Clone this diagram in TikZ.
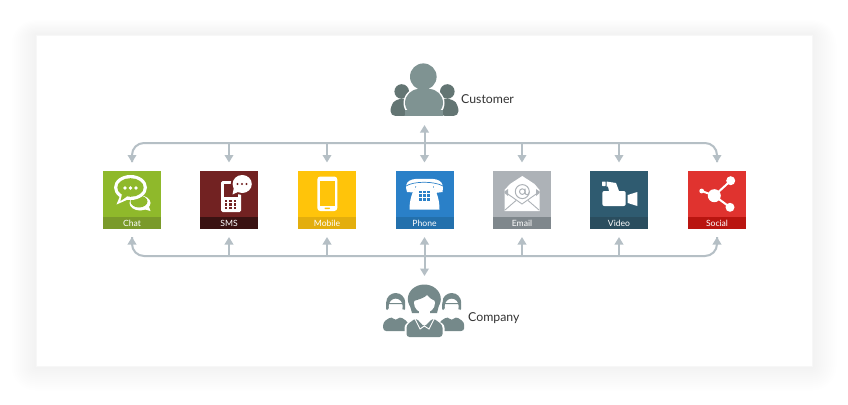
\documentclass[tikz,border=0pt]{standalone}
\usepackage{fontspec}
\setmainfont{Lato}
\usetikzlibrary{arrows.meta}
\definecolor{conncol}{HTML}{B5BFC5}
\definecolor{pmid}{HTML}{7F9392}
\definecolor{pside}{HTML}{637573}
\definecolor{pcomp}{HTML}{75898A}
\definecolor{icg}{HTML}{8FB92B}
\definecolor{icm}{HTML}{722222}
\definecolor{icy}{HTML}{FFC40A}
\definecolor{icb}{HTML}{2A80C8}
\definecolor{ice}{HTML}{ADB2B7}
\tikzset{
  x=1pt,y=-1pt,
  tile/.style={minimum size=58pt,inner sep=0pt,outer sep=0pt,fill=#1},
  band/.style={minimum width=58pt,minimum height=12pt,inner sep=0pt,outer sep=0pt,fill=#1,text=white,font=\fontsize{8.6}{10}\selectfont},
  conn/.style={draw=conncol,line width=2pt},
  arr/.style={conn,-{Triangle[length=7.5pt,width=8.5pt]}},
  both/.style={conn,{Triangle[length=7.5pt,width=8.5pt]}-{Triangle[length=7.5pt,width=8.5pt]}},
  who/.style={inner sep=0pt,text=black!80,font=\fontsize{12.3}{15}\selectfont,anchor=west},
}
\begin{document}
\begin{tikzpicture}
\useasboundingbox (0,0) rectangle (848,404);
\fill[white] (0,0) rectangle (848,404);
% soft card shadow, one grey level per step
\foreach \d in {24,22,...,2}{
  \pgfmathtruncatemacro{\g}{255-(26-\d)/2}
  \definecolor{shadowstep}{RGB}{\g,\g,\g}
  \fill[shadowstep,rounded corners=\d pt] (36-\d,35-\d*0.6) rectangle (812+\d,366+\d);
}
\fill[white] (36,35) rectangle (812,366);
\draw[black!3,line width=.8pt] (36,35) rectangle (812,366);

% tiles
\foreach \n/\x/\c/\b/\t in {chat/132/8FB92B/7A9A2A/Chat,sms/229/722222/3A1212/SMS,mobile/327/FFC40A/E3AE0D/Mobile,phone/424.5/2A80C8/2370AC/Phone,email/522/ADB2B7/7F878C/Email,video/619/2F5B70/2A4D5E/Video,social/717/E0332F/B91510/Social}{
  \definecolor{tc}{HTML}{\c}\definecolor{bc}{HTML}{\b}
  \node[tile=tc] (\n) at (\x,200) {};
  \node[band=bc] (\n-band) at (\x,223) {\t};
}
\coordinate (busT) at (424.5,143);
\coordinate (busB) at (424.5,256);
\coordinate (top) at (424.5,125);
\coordinate (bot) at (424.5,276);

% connectors
\draw[conn,rounded corners=12pt] ([yshift=9pt]chat.north) -- (chat.north |- busT) -- (social.north |- busT) -- ([yshift=9pt]social.north);
\draw[conn,rounded corners=12pt] ([yshift=-8pt]chat-band.south) -- (chat-band.south |- busB) -- (social-band.south |- busB) -- ([yshift=-8pt]social-band.south);
\foreach \n in {chat,social}{
  \draw[arr] ([yshift=14pt]\n.north) -- ([yshift=8.5pt]\n.north);
  \draw[arr] ([yshift=-14pt]\n-band.south) -- ([yshift=-8pt]\n-band.south);
}
\foreach \n in {sms,mobile,email,video}{
  \draw[arr] (\n.north |- busT) -- ([yshift=8.5pt]\n.north);
  \draw[arr] (\n-band.south |- busB) -- ([yshift=-8pt]\n-band.south);
}
\draw[both] (top) -- ([yshift=8.5pt]phone.north);
\draw[both] ([yshift=-8pt]phone-band.south) -- (bot);

% chat icon
\fill[white] (140,203) ellipse (10.5 and 7.5);
\fill[white] (140,208) -- (150.5,211) -- (148,204) -- cycle;
\fill[icg] (139,201.5) ellipse (8.5 and 6);
\fill[white] (130.5,187.5) ellipse (16.5 and 12.5);
\fill[white] (120,196) -- (116.5,204.5) -- (129,199) -- cycle;
\fill[icg] (130.5,187.5) ellipse (13.2 and 9.3);
\fill[icg] (122,194) -- (120.5,201) -- (127,196.5) -- cycle;
\foreach \x in {125,130.5,136}{\fill[white] (\x,188) circle (1.8);}

% sms icon
\fill[white,rounded corners=1.5pt] (221,181) rectangle (241,212);
\fill[icm] (224,184) rectangle (238,197);
\foreach \y in {201,204.5,208}{\foreach \x in {226,230.5,235}{\fill[icm] (\x-1.2,\y-1.2) rectangle (\x+1.2,\y+1.2);}}
\fill[icm] (242.2,184) ellipse (11.5 and 11);
\fill[icm] (231,197) -- (232,189) -- (240,192) -- cycle;
\fill[white] (242.2,184) ellipse (9.6 and 9);
\fill[white] (232.5,194.5) -- (234,187) -- (240,191) -- cycle;
\foreach \x in {237.5,242,246.5}{\fill[icm] (\x,184) circle (1.2);}

% mobile icon
\fill[white,rounded corners=3pt] (317.3,176.5) rectangle (337.3,211);
\fill[icy] (320,180.5) rectangle (334.8,206);
\fill[icy,rounded corners=.6pt] (324.5,207.5) rectangle (330,209);

% phone icon
\fill[white] (407,192) .. controls (403,180) and (412,178) .. (424.5,179) .. controls (437,178) and (445,180) .. (442.5,192) -- (435,193) -- (433.5,186) .. controls (428,185) and (420,185) .. (415.5,186) -- (414,192.5) -- cycle;
\fill[white] (417,184) -- (432,184) -- (433,187) .. controls (437,192) and (439.5,200) .. (439.5,209.5) -- (409.5,209.5) .. controls (409.5,200) and (412,192) .. (416,187) -- cycle;
\draw[icb,line width=.7pt] (406,186) .. controls (414,181) and (434,181) .. (443,186);
\foreach \y in {192,195.7,199.4}{\foreach \x in {420.2,424.4,428.6}{\fill[icb] (\x-1.3,\y-1.3) rectangle (\x+1.3,\y+1.3);}}

% email icon
\fill[white] (510,184) -- (522.3,176) -- (534.5,184) -- (539.5,190) -- (539.5,211) -- (504.5,211) -- (504.5,190) -- cycle;
\fill[ice] (504.5,191.5) -- (504.5,193) -- (508,196) -- (508,189) -- cycle;
\fill[ice] (539.5,191.5) -- (539.5,193) -- (536,196) -- (536,189) -- cycle;
\draw[ice,line width=.9pt] (505,192) -- (522,204) -- (539,192);
\draw[ice,line width=.9pt] (505,210) -- (516,200.5) (539,210) -- (528,200.5);
\draw[ice,line width=1pt] (522.3,191.6) circle (7);
\draw[ice,line width=1pt] (522.3,191.6) circle (2.8);
\draw[ice,line width=1pt] (525.2,188.6) -- (525.2,193) .. controls (525.5,195.5) and (529,195.5) .. (529.3,192);

% video icon
\fill[white,rounded corners=2pt] (602.3,191) rectangle (625.7,206);
\fill[white] (627.7,195) -- (637.3,192) -- (637.3,206) -- (627.7,203) -- cycle;
\fill[white,rounded corners=.5pt] (602,181.5) rectangle (605.5,186);
\fill[white] (606.5,181.5) -- (616,183) -- (619,191) -- (609,191) -- (608,186.5) -- (606.5,186.5) -- cycle;

% social icon
\draw[white,line width=2pt] (701.7,191) -- (714.3,195.7) -- (730.7,180.7) (714.3,195.7) -- (730,207.3);
\fill[white] (714.3,195.7) circle (6.5);
\fill[white] (730.7,180.7) circle (4.5);
\fill[white] (730,207.3) circle (4.5);
\fill[white] (701.7,191) circle (2.4);

% customer
\fill[pside] (401.7,91.5) circle (7.3);
\fill[pside] (447.3,91.5) circle (7.3);
\fill[pside,rounded corners=5pt] (390.5,116) -- (390.5,106) -- (396,99) -- (409,99) -- (409,116) -- cycle;
\fill[pside,rounded corners=5pt] (458.5,116) -- (458.5,106) -- (453,99) -- (440,99) -- (440,116) -- cycle;
\fill[white] (423.5,76.7) circle (15);
\fill[white,rounded corners=15pt] (403.5,118) -- (403.5,88) -- (444.5,88) -- (444.5,118) -- cycle;
\fill[pmid] (423.3,76.7) circle (13.3);
\fill[pmid,rounded corners=14pt] (405,116.5) -- (405,89) -- (443,89) -- (443,116.5) -- cycle;
\fill[pmid] (405,110) rectangle (443,116);
\fill[white] (388,116) rectangle (460,119);
\node[who] (customer) at (461,99) {Customer};

% company
\foreach \x in {395.7,451.7}{
  \fill[pcomp] (\x,302.5) circle (9.5);
  \fill[pcomp] (\x-9.5,302) rectangle (\x+9.5,308);
  \fill[white] (\x,306.5) ellipse (7 and 7.8);
  \fill[pcomp,rounded corners=1pt] (\x-9.5,303) -- (\x+9.5,303) -- (\x+9.5,310) -- (\x+7.5,310) -- (\x+7.5,304) -- (\x-7.5,304) -- (\x-7.5,310) -- (\x-9.5,310) -- cycle;
  \fill[pcomp,rounded corners=3pt] (\x-12.5,331) -- (\x-12.5,322) -- (\x-4,316.5) -- (\x,321) -- (\x+4,316.5) -- (\x+12.5,322) -- (\x+12.5,331) -- cycle;
}
\fill[white] (424.3,299) circle (18.5);
\fill[white,rounded corners=6pt] (404.5,338.5) -- (404.5,322) -- (444.5,322) -- (444.5,338.5) -- cycle;
\fill[pcomp] (424.3,299) ellipse (16.5 and 14.5);
\fill[pcomp] (408,299) -- (440.6,299) -- (437,313) -- (412,313) -- cycle;
\fill[white] (424.5,303) ellipse (10.5 and 10);
\fill[white] (419,311) rectangle (430,317);
\fill[pcomp] (413.6,301) .. controls (419,299.5) and (425,297.5) .. (427,295) .. controls (430,298) and (432,300) .. (435.4,301) -- (435,293) -- (414,293) -- cycle;
\fill[pcomp,rounded corners=3pt] (406.5,337) -- (406.5,325) -- (416,318) -- (424.3,327) -- (433,318) -- (442.5,325) -- (442.5,337) -- cycle;
\draw[white,line width=.9pt] (415,319) -- (420,329) -- (424.3,326) -- (429,329) -- (434,319);
\node[who] (company) at (468,318.5) {Company};
\end{tikzpicture}
\end{document}
